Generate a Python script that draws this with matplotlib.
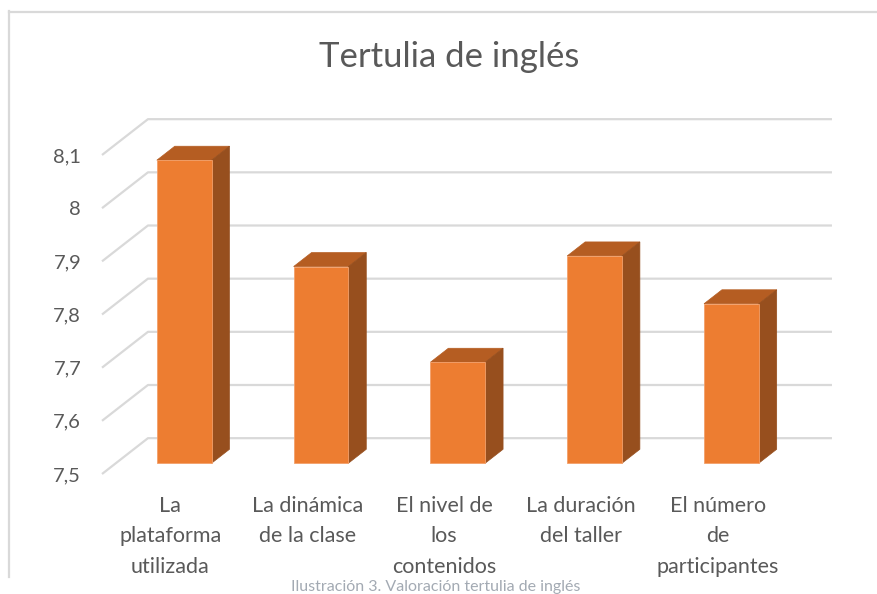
import matplotlib
matplotlib.use("Agg")
import matplotlib.pyplot as plt
from matplotlib.patches import Polygon
from matplotlib.lines import Line2D
import numpy as np

plt.rcParams['font.family'] = ['Lato', 'DejaVu Sans']

title = "Tertulia de inglés"
caption = "Ilustración 3. Valoración tertulia de inglés"
categories = ["La\nplataforma\nutilizada", "La dinámica\nde la clase",
              "El nivel de\nlos\ncontenidos", "La duración\ndel taller",
              "El número\nde\nparticipantes"]
values = [8.07, 7.87, 7.69, 7.89, 7.80]
yticks = [7.5, 7.6, 7.7, 7.8, 7.9, 8.0, 8.1]
ytick_labels = ["7,5", "7,6", "7,7", "7,8", "7,9", "8", "8,1"]

W, H = 877, 594
fig = plt.figure(figsize=(W / 100, H / 100), dpi=100)
ax = fig.add_axes([102 / W, (H - 474) / H, 684 / W, 319 / H])
ax.set_xlim(-0.5, 4.5)
ax.set_ylim(7.5, 8.1)
for s in ax.spines.values():
    s.set_visible(False)

# depth (oblique projection) in data units
dx, dy = 0.336, 0.0674
f0, fd = 0.30, 0.39
grid_c = "#d9d9d9"

# gridlines: diagonal on left wall + back wall horizontals
for v in yticks:
    ax.plot([-0.5, -0.5 + dx, 4.5 + dx], [v, v + dy, v + dy],
            color=grid_c, lw=1.6, clip_on=False, zorder=1, solid_capstyle='butt')

x = np.arange(len(values))
bw = 0.4
front_c, top_c, side_c = "#ED7D31", "#B55D22", "#974F1E"
bx = x + f0 * dx
bb = 7.5 + f0 * dy
heights = np.array(values) - 7.5
ax.bar(bx, heights, bottom=bb, width=bw, color=front_c, edgecolor="#F3A06A",
       linewidth=0.6, zorder=3, clip_on=False)
sdx, sdy = fd * dx, fd * dy
for xi, h in zip(bx, heights):
    xl, xr = xi - bw / 2, xi + bw / 2
    top = bb + h
    ax.add_patch(Polygon([(xl, top), (xr, top), (xr + sdx, top + sdy), (xl + sdx, top + sdy)],
                         closed=True, facecolor=top_c, edgecolor=top_c, lw=0.5,
                         zorder=2.9, clip_on=False))
    ax.add_patch(Polygon([(xr, bb), (xr + sdx, bb + sdy), (xr + sdx, top + sdy), (xr, top)],
                         closed=True, facecolor=side_c, edgecolor=side_c, lw=0.5,
                         zorder=2.9, clip_on=False))

ax.set_yticks(yticks, ytick_labels)
ax.set_xticks(x, categories)
ax.tick_params(axis='y', length=0, labelsize=14.5, labelcolor="#595959", pad=15)
ax.tick_params(axis='x', length=0, labelsize=15.5, labelcolor="#595959", pad=15.5)
for lab in ax.get_xticklabels():
    lab.set_linespacing(1.68)
    lab.set_va('top')

fig.text(449 / W, 1 - 57 / H, title, ha='center', va='center', fontsize=25, color="#595959")
fig.text(436 / W, 1 - 594 / H, caption, ha='center', va='bottom', fontsize=11.5, color="#a3aab3")

# chart border (left and top)
fig.add_artist(Line2D([8.5 / W, 8.5 / W], [1 - 11 / H, 1 - 577 / H], color=grid_c, lw=1.6))
fig.add_artist(Line2D([8.5 / W, 1.0], [1 - 11.5 / H, 1 - 11.5 / H], color=grid_c, lw=1.6))

fig.savefig("out.png", dpi=100)
